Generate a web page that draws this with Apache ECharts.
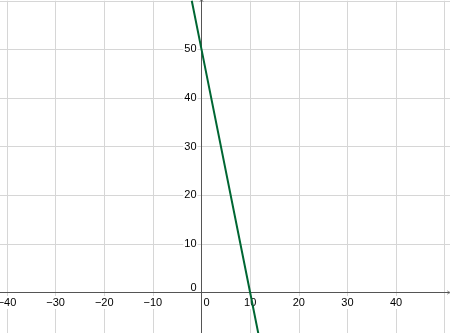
<!DOCTYPE html>
<html>
<head>
<meta charset="utf-8">
<script src="https://cdn.jsdelivr.net/npm/echarts@6/dist/echarts.min.js"></script>
<style>html,body{margin:0;padding:0;background:#fff}#c{width:450px;height:333px}</style>
</head>
<body>
<div id="c"></div>
<script>
// Data: straight line through these points
var lineX = [-2, 0, 10, 12];
var lineY = [60, 50, 0, -10];
// Tick labels shown on the axes
var xTickLabels = [-40, -30, -20, -10, 0, 10, 20, 30, 40];
var yTickLabels = [0, 10, 20, 30, 40, 50];

var S = 4.8625;           // px per unit
var OX = 201.5, OY = 292.5; // pixel of origin
// extended grid (nice extents) for gridlines & labels
var gxMin = -50, gxMax = 60, gyMin = -10, gyMax = 60;
var extGrid = {
  left: OX + gxMin * S, width: (gxMax - gxMin) * S,
  top: OY - gyMax * S, height: (gyMax - gyMin) * S,
  containLabel: false, outerBoundsMode: 'none'
};
// exact visible grid for axis lines & series
var vis = {left: 0, top: 0, width: 449, height: 333, containLabel: false, outerBoundsMode: 'none'};
var vxMin = (vis.left - OX) / S, vxMax = (vis.left + vis.width - OX) / S;
var vyMax = (OY - vis.top) / S, vyMin = (OY - vis.top - vis.height) / S;

var font = 'Liberation Sans, Arial, sans-serif';
var textCol = '#000';
var arrowPath = 'path://M0,10 L5,0 L10,10 L8.6,10 L5,2.6 L1.4,10 Z';

function labelFmt(list, zeroStyle) {
  return function (v) {
    if (list.indexOf(v) < 0) return '';
    if (v === 0) return '{' + zeroStyle + '|0}';
    return '{n|' + String(v).replace('-', '\u2212') + '}';
  };
}

var chart = echarts.init(document.getElementById('c'), null, {renderer: 'canvas'});
chart.setOption({
  animation: false,
  backgroundColor: '#fff',
  grid: [
    Object.assign({}, extGrid),
    Object.assign({}, extGrid),
    Object.assign({}, vis)
  ],
  xAxis: [
    { gridIndex: 0, type: 'value', min: gxMin, max: gxMax, interval: 10, z: 0,
      axisLine: {show: false, onZero: false}, axisTick: {show: false}, axisLabel: {show: false},
      splitLine: {show: true, lineStyle: {color: '#d6d6d6', width: 1}} },
    { gridIndex: 1, type: 'value', min: gxMin, max: gxMax, interval: 10, z: 3,
      position: 'bottom', offset: gyMin * S,
      axisLine: {show: false, onZero: false}, axisTick: {show: false}, splitLine: {show: false},
      axisLabel: { show: true, margin: 3.5, fontFamily: font, fontSize: 11, color: textCol,
        formatter: labelFmt(xTickLabels, 'zx'),
        rich: {
          n: {backgroundColor: '#fff', padding: [1, 1], fontFamily: font, fontSize: 11, color: textCol},
          zx: {padding: [1, 0, 1, 10], fontFamily: font, fontSize: 11, color: textCol}
        } } },
    { gridIndex: 2, type: 'value', min: vxMin, max: vxMax, z: 2,
      axisLine: {show: true, onZero: true, symbol: ['none', arrowPath], symbolSize: [7, 4],
        lineStyle: {color: '#555', width: 1}},
      axisTick: {show: false}, axisLabel: {show: false}, splitLine: {show: false} }
  ],
  yAxis: [
    { gridIndex: 0, type: 'value', min: gyMin, max: gyMax, interval: 10, z: 0,
      axisLine: {show: false, onZero: false}, axisTick: {show: false}, axisLabel: {show: false},
      splitLine: {show: true, lineStyle: {color: '#d6d6d6', width: 1}} },
    { gridIndex: 1, type: 'value', min: gyMin, max: gyMax, interval: 10, z: 3,
      position: 'left', offset: gxMin * S,
      axisLine: {show: false, onZero: false}, axisTick: {show: false}, splitLine: {show: false},
      axisLabel: { show: true, margin: 4, fontFamily: font, fontSize: 11, color: textCol,
        formatter: labelFmt(yTickLabels, 'zy'),
        rich: {
          n: {backgroundColor: '#fff', padding: [0, 1], fontFamily: font, fontSize: 11, color: textCol},
          zy: {padding: [0, 1, 10, 1], fontFamily: font, fontSize: 11, color: textCol}
        } } },
    { gridIndex: 2, type: 'value', min: vyMin, max: vyMax, z: 2,
      axisLine: {show: true, onZero: true, symbol: ['none', arrowPath], symbolSize: [7, 4],
        lineStyle: {color: '#555', width: 1}},
      axisTick: {show: false}, axisLabel: {show: false}, splitLine: {show: false} }
  ],
  series: [{
    type: 'line', xAxisIndex: 2, yAxisIndex: 2, z: 5,
    data: lineX.map(function (x, i) { return [x, lineY[i]]; }),
    showSymbol: false, symbol: 'none',
    lineStyle: {color: '#006633', width: 2},
    clip: true, silent: true
  }]
});
</script>
</body>
</html>
